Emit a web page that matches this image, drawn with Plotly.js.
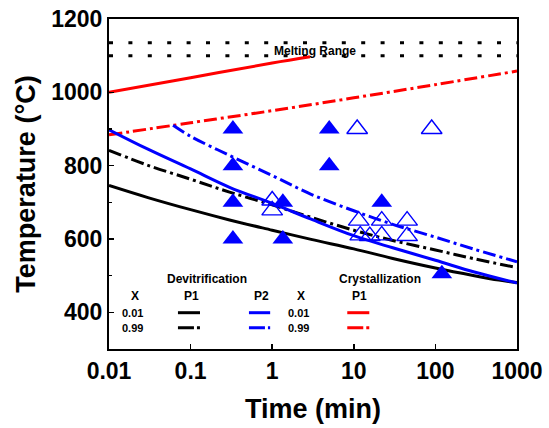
<!DOCTYPE html>
<html>
<head>
<meta charset="utf-8">
<script src="https://cdn.plot.ly/plotly-3.0.1.min.js"></script>
<style>
html,body{margin:0;padding:0;background:#fff;}
#chart{width:549px;height:428px;}
</style>
</head>
<body>
<div id="chart"></div>
<script>
// ---- data (time in min, temperature in °C) ----
const meltT = [0.01, 1000];
const meltUpper = [1135, 1135];
const meltLower = [1100, 1100];

// Crystallization P1
const crysP1_001_t = [0.01, 0.1, 1, 2.9];
const crysP1_001_T = [1000, 1040, 1080, 1097];
const crysP1_099_t = [0.01, 0.1, 1, 10, 100, 1000];
const crysP1_099_T = [884, 917, 950, 985, 1021, 1058];

// Devitrification P1
const devP1_001_t = [0.01, 0.03, 0.1, 0.3, 1, 3, 10, 30, 100, 300, 600, 1000];
const devP1_001_T = [746, 713, 680, 652, 624, 599, 573, 547, 521, 500, 488, 481];
const devP1_099_t = [0.01, 0.03, 0.1, 0.3, 1, 3, 10, 30, 100, 300, 1000];
const devP1_099_T = [842, 801, 763, 728, 693, 659, 624, 596, 570, 546, 522];

// Devitrification P2
const devP2_001_t = [0.01, 0.03, 0.1, 0.3, 1, 3, 10, 30, 100, 300, 1000];
const devP2_001_T = [898, 845, 791, 741, 697, 654, 609, 576, 542, 510, 480];
const devP2_099_t = [0.061, 0.1, 0.3, 1, 3, 10, 30, 100, 300, 1000];
const devP2_099_T = [910, 880, 828, 773, 722, 677, 640, 605, 572, 538];

// Experimental points
const filledT = [0.33, 0.33, 0.33, 0.33, 1.35, 1.35, 5, 5, 22, 120];
const filledTemp = [900, 800, 700, 600, 700, 600, 900, 800, 700, 505];
const openT = [11, 90, 1.0, 1.0, 11.5, 22, 45, 12, 15.7, 22, 45];
const openTemp = [900, 900, 705, 678, 650, 650, 650, 610, 608, 610, 608];

// tick labels
const xTickVals = [0.01, 0.1, 1, 10, 100, 1000];
const xTickText = ['0.01', '0.1', '1', '10', '100', '1000'];
const yTickVals = [400, 600, 800, 1000, 1200];
const yTickText = ['400', '600', '800', '1000', '1200'];

const FONT = 'Liberation Sans, Arial, sans-serif';
const DD = '13px,4px,3px,4px';
const BLUE = '#0000ff', RED = '#ff0000', BLACK = '#000000';

function line(x, y, color, dash, smooth) {
  return {x: x, y: y, mode: 'lines', type: 'scatter', showlegend: false, hoverinfo: 'skip',
          line: {color: color, width: 3, dash: dash || 'solid',
                 shape: smooth ? 'spline' : 'linear', smoothing: 1}};
}

const traces = [
  line(meltT, meltUpper, BLACK, '4px,15.4px'),
  line(meltT, meltLower, BLACK, '4px,15.4px'),
  line(crysP1_001_t, crysP1_001_T, RED, 'solid', true),
  line(crysP1_099_t, crysP1_099_T, RED, DD, true),
  line(devP1_001_t, devP1_001_T, BLACK, 'solid', true),
  line(devP1_099_t, devP1_099_T, BLACK, DD, true),
  line(devP2_001_t, devP2_001_T, BLUE, 'solid', true),
  line(devP2_099_t, devP2_099_T, BLUE, DD, true),
  {x: filledT, y: filledTemp, mode: 'markers', type: 'scatter', showlegend: false,
   marker: {symbol: 'triangle-up', size: 18, color: BLUE, line: {width: 0}}},
  {x: openT, y: openTemp, mode: 'markers', type: 'scatter', showlegend: false,
   marker: {symbol: 'triangle-up-open', size: 18, color: BLUE, line: {width: 1.4, color: BLUE}}}
];

function ann(text, x, y, size) {
  return {text: text, x: x, y: y, xref: 'paper', yref: 'paper', showarrow: false,
          xanchor: 'center', yanchor: 'middle',
          font: {family: FONT, size: size || 12, color: '#000', weight: 700}};
}
const yA = 0.11, yB = 0.0645, yH = 0.1615;
const annotations = [
  ann('Melting Range', 0.505, 0.903, 12),
  ann('Devitrification', 0.2414, 0.2112, 12),
  ann('Crystallization', 0.664, 0.2112, 12),
  ann('X', 0.0637, yH, 12), ann('P1', 0.2034, yH, 12), ann('P2', 0.3743, yH, 12),
  ann('X', 0.4699, yH, 12), ann('P1', 0.615, yH, 12),
  ann('0.01', 0.0588, yA, 11), ann('0.99', 0.0588, yB, 11),
  ann('0.01', 0.464, yA, 11), ann('0.99', 0.464, yB, 11)
];
function seg(x0, x1, y, color, dash) {
  return {type: 'line', xref: 'paper', yref: 'paper', x0: x0, x1: x1, y0: y, y1: y,
          line: {color: color, width: 3, dash: dash || 'solid'}};
}
const LD = '16px,3px,3px,20px';
const shapes = [
  seg(0.169, 0.223, yA, BLACK), seg(0.169, 0.223, yB, BLACK, LD),
  seg(0.343, 0.395, yA, BLUE), seg(0.343, 0.395, yB, BLUE, LD),
  seg(0.584, 0.638, yA, RED), seg(0.584, 0.638, yB, RED, LD)
];

const layout = {
  width: 549, height: 428,
  margin: {l: 109, r: 32, t: 19, b: 79},
  paper_bgcolor: '#fff', plot_bgcolor: '#fff',
  showlegend: false,
  xaxis: {
    type: 'log', range: [-2, 3],
    tickvals: xTickVals, ticktext: xTickText,
    ticks: 'inside', ticklen: 5, tickwidth: 1.5, tickcolor: '#000',
    showline: true, linecolor: '#000', linewidth: 2, mirror: true,
    showgrid: false, zeroline: false,
    tickfont: {family: FONT, size: 23, color: '#000', weight: 700},
    title: {text: 'Time (min)', font: {family: FONT, size: 27, color: '#000', weight: 700}, standoff: 17}
  },
  yaxis: {
    range: [300, 1200],
    tickvals: yTickVals, ticktext: yTickText,
    ticks: 'inside', ticklen: 5, tickwidth: 1.5, tickcolor: '#000',
    minor: {dtick: 100, ticks: 'inside', ticklen: 3, tickcolor: '#000', tickwidth: 1.2},
    showline: true, linecolor: '#000', linewidth: 2, mirror: true,
    showgrid: false, zeroline: false,
    tickfont: {family: FONT, size: 23, color: '#000', weight: 700},
    title: {text: 'Temperature (°C)', font: {family: FONT, size: 27, color: '#000', weight: 700}, standoff: 8}
  },
  annotations: annotations,
  shapes: shapes
};

Plotly.newPlot('chart', traces, layout, {displayModeBar: false, staticPlot: true});
</script>
</body>
</html>
